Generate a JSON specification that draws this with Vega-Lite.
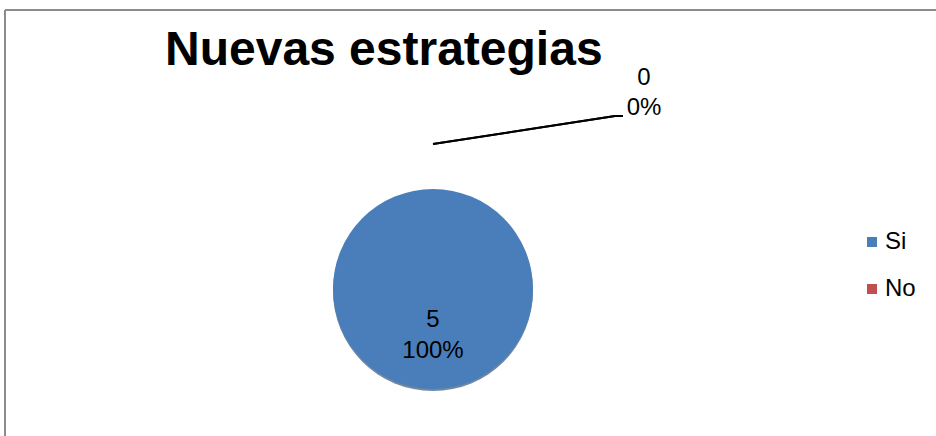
{
  "$schema": "https://vega.github.io/schema/vega-lite/v6.json",
  "width": 200,
  "height": 200,
  "autosize": "none",
  "padding": {"left": 333, "top": 189, "right": 403, "bottom": 47},
  "background": "white",
  "config": {"view": {"stroke": null}},
  "title": {
    "text": "Nuevas estrategias",
    "anchor": "start",
    "frame": "group",
    "font": "Liberation Sans",
    "fontSize": 48,
    "fontWeight": "bold",
    "color": "black",
    "baseline": "alphabetic",
    "offset": 0,
    "dy": 104,
    "dx": -168
  },
  "data": {
    "values": [
      {"categoria": "Si", "valor": 5, "etiqueta": "5\n100%"},
      {"categoria": "No", "valor": 0, "etiqueta": "0\n0%"}
    ]
  },
  "layer": [
    {
      "mark": {"type": "rule", "color": "#8c8c8c", "strokeWidth": 2},
      "encoding": {"x": {"value": -328}, "y": {"value": -179}, "x2": {"value": 603}, "y2": {"value": -179}}
    },
    {
      "mark": {"type": "rule", "color": "#8c8c8c", "strokeWidth": 2},
      "encoding": {"x": {"value": -328}, "y": {"value": -179}, "x2": {"value": -328}, "y2": {"value": 247}}
    },
    {
      "mark": {"type": "arc", "color": "#34557d", "opacity": 0.7, "yOffset": 2},
      "encoding": {
        "theta": {"field": "valor", "type": "quantitative", "stack": true}
      }
    },
    {
      "mark": {"type": "arc"},
      "encoding": {
        "theta": {"field": "valor", "type": "quantitative", "stack": true},
        "color": {
          "field": "categoria",
          "type": "nominal",
          "sort": ["Si", "No"],
          "scale": {"domain": ["Si", "No"], "range": ["#4A7EBB", "#C0504D"]},
          "legend": {
            "title": null,
            "orient": "none",
            "legendX": 527,
            "legendY": 41,
            "symbolType": "square",
            "symbolSize": 100,
            "symbolStrokeWidth": 0,
            "labelFont": "Liberation Sans",
            "labelFontSize": 24,
            "labelColor": "black",
            "labelOffset": 1,
            "rowPadding": 23,
            "padding": 0
          }
        }
      }
    },
    {
      "mark": {"type": "text", "font": "Liberation Sans", "fontSize": 24, "lineBreak": "\n", "lineHeight": 31, "align": "center", "baseline": "middle", "color": "black"},
      "encoding": {
        "theta": {"field": "valor", "type": "quantitative", "stack": true},
        "radius": {"value": 31},
        "text": {"field": "etiqueta"},
        "opacity": {"condition": {"test": "datum.categoria == 'Si'", "value": 1}, "value": 0}
      }
    },
    {
      "mark": {"type": "text", "font": "Liberation Sans", "fontSize": 24, "lineBreak": "\n", "lineHeight": 30, "align": "center", "baseline": "middle", "color": "black", "dx": 211},
      "encoding": {
        "theta": {"field": "valor", "type": "quantitative", "stack": true},
        "radius": {"value": 211},
        "text": {"field": "etiqueta"},
        "opacity": {"condition": {"test": "datum.categoria == 'No'", "value": 1}, "value": 0}
      }
    },
    {
      "mark": {"type": "rule", "color": "black", "strokeWidth": 2},
      "encoding": {"x": {"value": 100}, "y": {"value": -45}, "x2": {"value": 282}, "y2": {"value": -73}}
    },
    {
      "mark": {"type": "rule", "color": "black", "strokeWidth": 2},
      "encoding": {"x": {"value": 282}, "y": {"value": -73}, "x2": {"value": 290}, "y2": {"value": -73}}
    }
  ]
}
